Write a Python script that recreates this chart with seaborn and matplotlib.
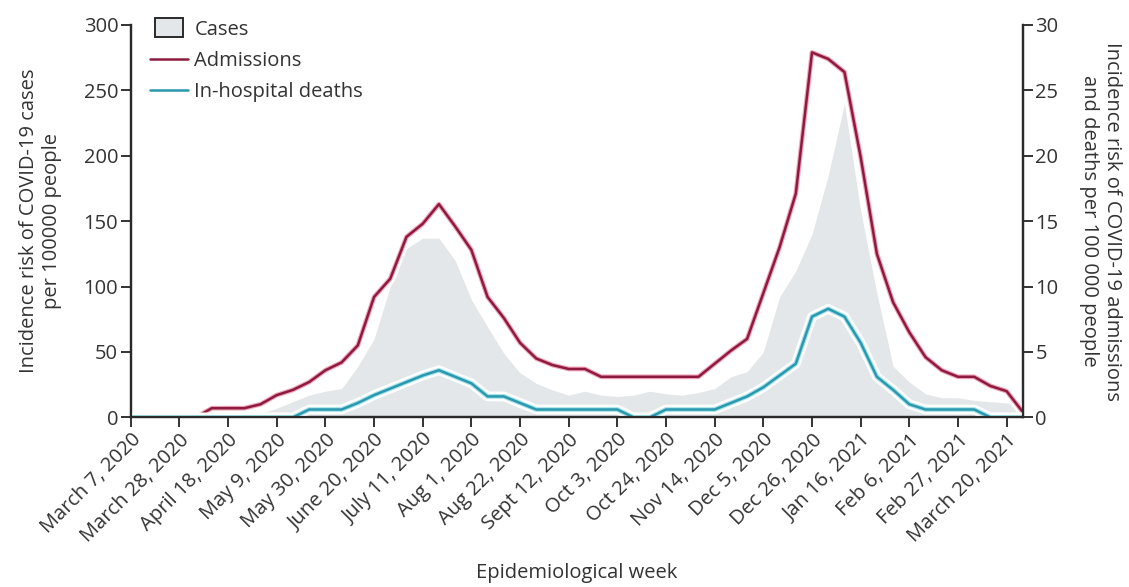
import numpy as np
import pandas as pd
import seaborn as sns
import matplotlib.pyplot as plt
import matplotlib.patheffects as pe
from matplotlib.patches import Patch, Rectangle
from matplotlib.lines import Line2D
from matplotlib.legend_handler import HandlerPatch

# weekly values, week 0 = March 7, 2020
weeks = list(range(56))

# cases per 100000 (left axis)
cases = [0, 0, 0, 0, 0, 0, 1, 2, 3, 7,
         12, 17, 20, 22, 39, 60, 100, 129, 137, 137,
         120, 90, 69, 49, 34, 26, 21, 17, 20, 17,
         16, 17, 20, 18, 17, 19, 22, 31, 35, 50,
         92, 112, 140, 185, 240, 158, 95, 39, 27, 18,
         15, 15, 13, 12, 11, 10]

# admissions per 100000 (right axis)
admissions = [0, 0, 0, 0, 0, 0.7, 0.7, 0.7, 1.0, 1.7,
              2.1, 2.7, 3.6, 4.2, 5.5, 9.2, 10.6, 13.8, 14.8, 16.3,
              14.6, 12.8, 9.2, 7.6, 5.7, 4.5, 4.0, 3.7, 3.7, 3.1,
              3.1, 3.1, 3.1, 3.1, 3.1, 3.1, 4.1, 5.1, 6.0, 9.5,
              13.0, 17.1, 27.9, 27.4, 26.4, 19.9, 12.5, 8.8, 6.5, 4.6,
              3.6, 3.1, 3.1, 2.4, 2.0, 0.4]

# in-hospital deaths per 100000 (right axis)
deaths = [0, 0, 0, 0, 0, 0, 0, 0, 0, 0,
          0, 0.6, 0.6, 0.6, 1.1, 1.7, 2.2, 2.7, 3.2, 3.6,
          3.1, 2.6, 1.6, 1.6, 1.1, 0.6, 0.6, 0.6, 0.6, 0.6,
          0.6, 0, 0, 0.6, 0.6, 0.6, 0.6, 1.1, 1.6, 2.3,
          3.2, 4.1, 7.7, 8.3, 7.7, 5.7, 3.1, 2.1, 1.0, 0.6,
          0.6, 0.6, 0.6, 0, 0, 0]

tick_weeks = list(range(0, 55, 3))
tick_labels = ['March 7, 2020', 'March 28, 2020', 'April 18, 2020', 'May 9, 2020',
               'May 30, 2020', 'June 20, 2020', 'July 11, 2020', 'Aug 1, 2020',
               'Aug 22, 2020', 'Sept 12, 2020', 'Oct 3, 2020', 'Oct 24, 2020',
               'Nov 14, 2020', 'Dec 5, 2020', 'Dec 26, 2020', 'Jan 16, 2021',
               'Feb 6, 2021', 'Feb 27, 2021', 'March 20, 2021']

df = pd.DataFrame({'week': weeks, 'cases': cases,
                   'admissions': admissions, 'deaths': deaths})

sns.set_theme(style='ticks')
plt.rcParams['font.family'] = ['Open Sans', 'DejaVu Sans']
text_col = '#333333'
plt.rcParams['text.color'] = text_col
plt.rcParams['axes.labelcolor'] = text_col
plt.rcParams['xtick.color'] = text_col
plt.rcParams['ytick.color'] = text_col

red = '#8c1b3f'
red_edge = '#f2a3b8'
teal = '#2b98ad'
teal_edge = '#a3e2ec'
grey = '#e4e7e9'
fs = 14.5

fig = plt.figure(figsize=(11.29, 5.87), dpi=100)
ax = fig.add_axes([0.1158, 0.289, 0.7902, 0.6685])
ax2 = ax.twinx()

ax.fill_between(df.week, 0, df.cases, color=grey, lw=0)

halo_red = [pe.Stroke(linewidth=7, foreground='white'),
            pe.Stroke(linewidth=3.4, foreground=red_edge), pe.Normal()]
halo_teal = [pe.Stroke(linewidth=7, foreground='white'),
             pe.Stroke(linewidth=3.4, foreground=teal_edge), pe.Normal()]
sns.lineplot(data=df, x='week', y='admissions', ax=ax2, color=red, lw=1.8,
             path_effects=halo_red, legend=False)
sns.lineplot(data=df, x='week', y='deaths', ax=ax2, color=teal, lw=1.8,
             path_effects=halo_teal, legend=False)

ax.set_xlim(0, 55)
ax.set_ylim(0, 300)
ax2.set_ylim(0, 30)
ax.set_yticks(range(0, 301, 50))
ax2.set_yticks(range(0, 31, 5))
ax.set_xticks(tick_weeks)
ax.set_xticklabels(tick_labels, rotation=45, ha='right', rotation_mode='anchor')

for a in (ax, ax2):
    a.spines['top'].set_visible(False)
    for s in a.spines.values():
        s.set_color('#2a2a2a')
        s.set_linewidth(1.6)
    a.tick_params(length=7, width=1.4, labelsize=fs, pad=2)
    a.grid(False)

ax.set_xlabel('Epidemiological week', fontsize=fs)
ax.xaxis.set_label_coords(0.5, -0.37)
ax.set_ylabel('Incidence risk of COVID-19 cases\nper 100000 people', fontsize=fs)
ax.yaxis.set_label_coords(-0.077, 0.5)
ax2.set_ylabel('Incidence risk of COVID-19 admissions\nand deaths per 100 000 people',
               fontsize=fs, rotation=270)
ax2.yaxis.set_label_coords(1.111, 0.5)


def small_box(legend, orig_handle, xdescent, ydescent, width, height, fontsize):
    return Rectangle((-xdescent + 0.13 * width, -ydescent - 0.2 * height),
                     0.74 * width, 1.4 * height)


handles = [Patch(facecolor=grey, edgecolor='#2a2a2a', lw=1.4),
           Line2D([], [], color=red, lw=1.8),
           Line2D([], [], color=teal, lw=1.8)]
ax2.legend(handles, ['Cases', 'Admissions', 'In-hospital deaths'],
           loc='upper left', bbox_to_anchor=(0.1293, 0.9736), bbox_transform=fig.transFigure,
           frameon=False, fontsize=fs, labelspacing=0.55, handlelength=1.9,
           handletextpad=0.3, borderaxespad=0, borderpad=0.2,
           handler_map={Patch: HandlerPatch(patch_func=small_box)})

plt.savefig('out.png', dpi=100)
